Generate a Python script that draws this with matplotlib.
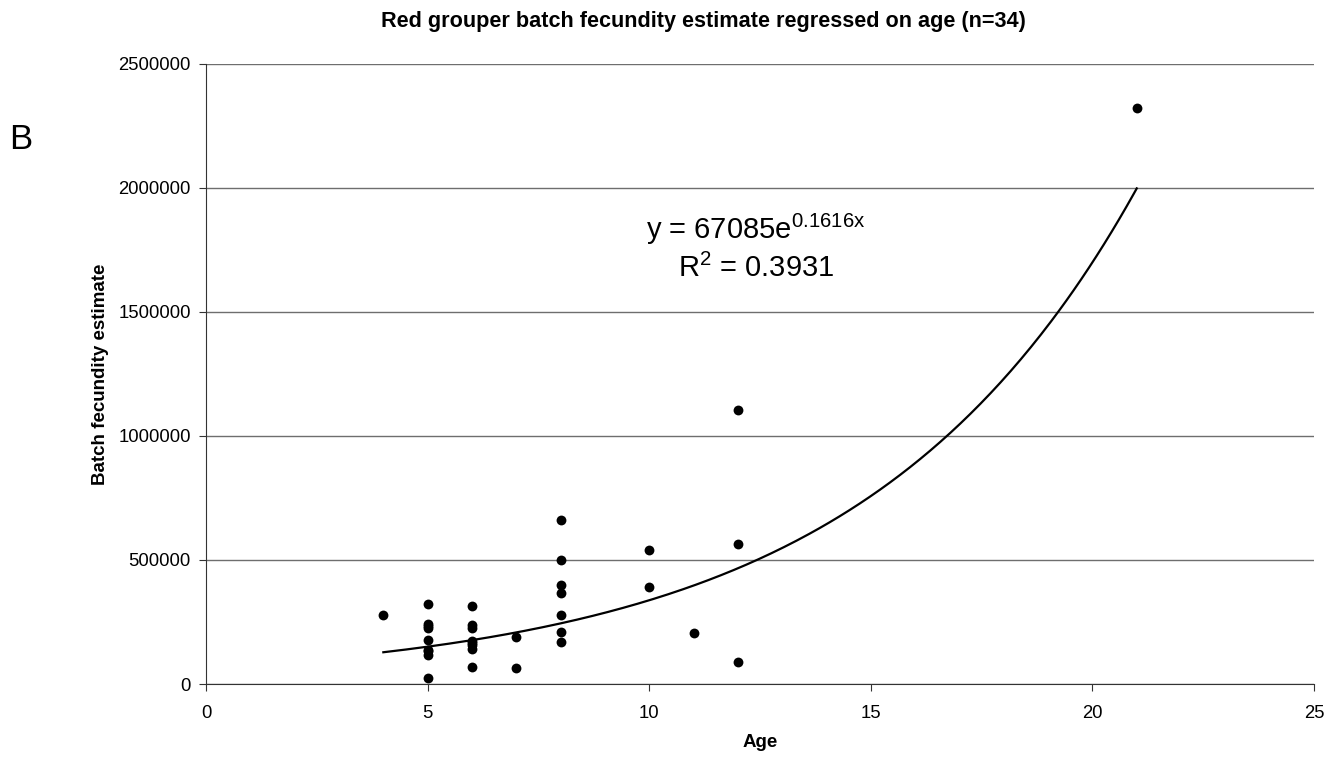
import numpy as np
import matplotlib
matplotlib.use("Agg")
import matplotlib.pyplot as plt

plt.rcParams['font.family'] = ['Liberation Sans', 'DejaVu Sans']
plt.rcParams['mathtext.fontset'] = 'custom'
plt.rcParams['mathtext.rm'] = 'Liberation Sans'
plt.rcParams['mathtext.it'] = 'Liberation Sans'
plt.rcParams['mathtext.default'] = 'regular'

age = [4,
       5, 5, 5, 5, 5, 5, 5, 5, 5,
       6, 6, 6, 6, 6, 6, 6, 6,
       7, 7,
       8, 8, 8, 8, 8, 8, 8,
       10, 10,
       11,
       12, 12, 12,
       21]
fecundity = [277000,
             324000, 241000, 233000, 227000, 179000, 139000, 135000, 116000, 24000,
             316000, 237000, 226000, 172000, 165000, 156000, 143000, 69000,
             190000, 65000,
             661000, 499000, 398000, 368000, 277000, 210000, 169000,
             539000, 390000,
             204000,
             1105000, 565000, 89000,
             2323000]
coef_a = 67085
coef_b = 0.1616
r2 = 0.3931

fig = plt.figure(figsize=(13.32, 7.57), dpi=100)
ax = fig.add_axes([0.1547, 0.0964, 0.8318, 0.8195])

xs = np.linspace(min(age), max(age), 300)
ax.plot(xs, coef_a * np.exp(coef_b * xs), color='black', lw=1.6, zorder=3)
ax.scatter(age, fecundity, s=50, color='black', zorder=4, linewidths=0)

ax.set_xlim(0, 25)
ax.set_ylim(0, 2500000)
ax.set_xticks([0, 5, 10, 15, 20, 25])
ax.set_yticks([0, 500000, 1000000, 1500000, 2000000, 2500000])
ax.set_yticklabels(['0', '500000', '1000000', '1500000', '2000000', '2500000'])
ax.yaxis.grid(True, color='#6e6e6e', lw=1.0)
ax.set_axisbelow(True)
for s in ['top', 'right']:
    ax.spines[s].set_visible(False)
for s in ['left', 'bottom']:
    ax.spines[s].set_color('#333333')
ax.tick_params(axis='both', labelsize=13.3, direction='out', length=5, color='#333333')
ax.tick_params(axis='y', pad=6)
ax.tick_params(axis='x', pad=10)

ax.set_xlabel('Age', fontsize=13.5, fontweight='bold', va='center')
ax.set_ylabel('Batch fecundity estimate', fontsize=13.5, fontweight='bold', va='center')
ax.xaxis.set_label_coords(0.5, -0.095)
ax.yaxis.set_label_coords(-0.0957, 0.5)
fig.text(0.528, 0.971, 'Red grouper batch fecundity estimate regressed on age (n=34)',
         ha='center', va='center', fontsize=15.6, fontweight='bold')
fig.text(0.0155, 0.816, 'B', ha='center', va='center', fontsize=25)

ax.text(12.41, 1833000, 'y = %de$^{%.4fx}$' % (coef_a, coef_b), ha='center', va='center', fontsize=21)
ax.text(12.41, 1675000, 'R$^{2}$ = %.4f' % r2, ha='center', va='center', fontsize=21)

fig.savefig('out.png', dpi=100)
